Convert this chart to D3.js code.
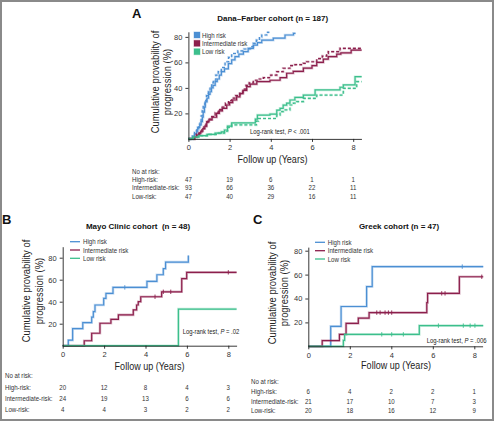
<!DOCTYPE html>
<html><head><meta charset="utf-8">
<script src="https://cdn.jsdelivr.net/npm/d3@7"></script>
<style>body{margin:0;background:#fff} svg{display:block}</style>
</head><body><svg id="c" width="494" height="421"></svg>
<script>
// ---------- data ----------
const xTicks = [0, 2, 4, 6, 8];
const yTicks = [20, 40, 60, 80];
const groups = ["High risk", "Intermediate risk", "Low risk"];
const tableRows = ["High-risk:", "Intermediate-risk:", "Low-risk:"];
const colors = ["#4b8fd3", "#8c1f4c", "#3cbf8c"];

const titleA = "Dana\u2013Farber cohort (n = 187)";
const titleB = "Mayo Clinic cohort  (n = 48)";
const titleC = "Greek cohort (n = 47)";

// Panel A (solid and dashed curves) [years, cumulative %]
const aHighSolid = [[0.2,2],[0.3,4],[0.4,6],[0.45,9],[0.55,11],[0.62,13.5],[0.68,17],[0.72,21],[0.78,25],[0.82,29],[0.9,32],[0.98,35],[1.05,37],[1.12,40],[1.2,42],[1.3,45],[1.4,47],[1.5,50],[1.6,52.7],[1.75,55],[1.94,59],[2.1,62],[2.26,64.5],[2.45,66.5],[2.67,68.4],[2.9,71],[3.15,73.6],[3.35,75.5],[3.56,77.5],[4.12,79],[4.69,81.5],[5.1,82.8]];
const aHighSolidEnd = 5.2;
const aHighDash = [[0.2,2],[0.3,5],[0.4,8],[0.5,11],[0.56,13.5],[0.62,18],[0.67,22],[0.72,26.6],[0.8,30],[0.88,34],[0.97,37],[1.05,41],[1.13,44],[1.21,46],[1.33,50],[1.45,52.7],[1.6,56],[1.78,60.5],[1.95,64],[2.1,67],[2.4,69],[2.7,70.5],[3.0,72.3],[3.15,75],[3.3,77.5],[3.45,80],[3.56,81.5],[3.8,83.6]];
const aHighDashEnd = 3.93;
const aMidSolid = [[0.3,1.5],[0.4,3],[0.5,4.5],[0.6,6],[0.7,8],[0.8,10],[0.89,13.5],[1.0,15],[1.15,17],[1.37,20],[1.5,22],[1.65,24],[1.86,26.6],[2.0,28.5],[2.15,30.5],[2.34,33],[2.5,35.5],[2.65,38],[2.83,41],[3.0,43],[3.32,45],[3.96,46],[4.45,48],[4.77,51.5],[5.09,53],[5.58,55.5],[6.0,57.5],[6.23,60],[6.55,62.5],[6.79,64.5],[7.2,66.5],[7.4,67.5],[7.9,69.7]];
const aMidSolidEnd = 8.41;
const aMidDash = [[0.3,1.5],[0.4,3.5],[0.55,5.5],[0.65,8],[0.75,10],[0.85,13],[0.95,15.5],[1.1,17.5],[1.3,20.5],[1.45,23],[1.6,25],[1.8,28],[1.95,30],[2.1,32],[2.3,34],[2.5,36.5],[2.65,39],[2.8,42],[2.95,44],[3.15,46],[3.4,47],[3.64,48],[4.0,50],[4.29,52.7],[4.6,55.4],[4.93,57.5],[5.17,58.2],[5.58,59.3],[5.74,60.5],[6.23,63],[6.5,65],[6.71,67],[6.79,68.4],[7.36,71]];
const aMidDashEnd = 8.41;
const aLowSolid = [[0.24,1.5],[0.5,2.5],[0.9,3.5],[1.3,4.5],[1.6,5.5],[1.75,7],[1.9,10],[2.1,12.5],[3.25,15.5],[3.35,18.7],[3.96,19.5],[4.29,22.5],[4.45,24],[4.6,26.5],[4.77,28],[4.93,30.5],[5.17,32.5],[5.58,34.4],[6.15,38.4],[7.36,40.5],[7.52,42.3],[8.09,48.8]];
const aLowSolidEnd = 8.41;
const aLowDash = [[0.24,1.5],[0.6,2.5],[1.0,3.5],[1.4,4.5],[1.75,6],[1.9,9],[2.1,11],[3.3,14],[3.4,16],[4.29,18.7],[4.45,21.4],[4.6,22.7],[4.93,26.6],[5.1,28],[5.26,29.2],[5.58,31.8],[6.23,34.4],[7.52,39.7],[8.17,44.9]];
const aLowDashEnd = 8.41;

// Panel B
const bHigh = [[0.27,5],[0.48,15.5],[0.97,21],[1.4,26],[1.48,31],[1.56,37],[1.98,43],[2.09,47.5],[2.43,53],[4.07,58.5],[4.55,64.5],[4.86,70],[4.97,76],[6.07,82]];
const bHighEnd = 6.07;
const bHighCens = [[3.0,53]];
const bMid = [[1.04,4.5],[1.4,11.3],[1.8,20.4],[2.33,24],[2.69,28],[3.41,32.5],[3.57,37],[3.65,40],[3.77,44.5],[4.78,49],[5.75,61],[5.99,66.7]];
const bMidEnd = 8.4;
const bMidCens = [[4.46,44.5],[4.86,49],[5.22,49],[8.0,66.7]];
const bLow = [[5.59,33.3]];
const bLowEnd = 8.4;
const bLowCens = [];

// Panel C
const cHigh = [[1.08,16.7],[1.58,33.3],[2.81,50],[3.08,66.7]];
const cHighEnd = 8.43;
const cHighCens = [[7.42,66.7]];
const cMid = [[0.67,4.8],[1.5,10],[1.82,19.2],[2.41,23.6],[2.93,28.2],[5.71,36.5],[5.75,44.3],[7.28,58.2]];
const cMidEnd = 8.43;
const cMidCens = [[3.3,28.2],[3.46,28.2],[3.7,28.2],[3.86,28.2],[4.02,28.2],[6.43,44.3],[6.59,44.3],[8.36,58.2]];
const cLow = [[1.69,5],[1.75,10],[5.35,17.3]];
const cLowEnd = 8.43;
const cLowCens = [[3.54,10],[4.02,10],[4.58,10],[6.27,17.3],[7.47,17.3],[7.8,17.3],[8.03,17.3]];

// numbers at risk
const atRiskA = [[47,19,6,1,1],[93,66,36,22,11],[47,40,29,16,11]];
const atRiskB = [[20,12,8,4,3],[24,19,13,6,6],[4,4,3,2,2]];
const atRiskC = [[6,4,2,2,1],[21,17,10,7,3],[20,18,16,12,9]];

// ---------- drawing ----------
const SANS = "'Liberation Sans',Arial,Helvetica,sans-serif";
const COND = 0.82; // condensed look (horizontal scale)
const svg = d3.select("#c");
svg.append("rect").attr("x",1).attr("y",1).attr("width",492).attr("height",419)
  .attr("fill","none").attr("stroke","#8a8a8a").attr("stroke-width",2);

function txt(g, x, y, s, size, opts = {}) {
  let parent = g, tx = x, ty = y;
  if (opts.narrow) {
    parent = g.append("g").attr("transform", `translate(${x},${y}) scale(${COND},1)`);
    tx = 0; ty = 0;
  }
  const t = parent.append("text").attr("x", tx).attr("y", ty)
    .attr("font-family", SANS).attr("font-size", size)
    .attr("fill", opts.fill || "#222")
    .attr("text-anchor", opts.anchor || "start")
    .attr("font-weight", opts.weight || "normal");
  if (opts.dy) t.attr("dy", opts.dy);
  if (opts.pre) t.style("white-space", "pre");
  t.text(s);
  return t;
}

function panel(cfg) {
  const g = svg.append("g");
  const x = d3.scaleLinear().domain([0, 8.4]).range([cfg.x0, cfg.x0 + cfg.px * 8.4]);
  const y = d3.scaleLinear().domain([0, cfg.ymax]).range([cfg.y0, cfg.y0 - cfg.py * cfg.ymax]);

  // letter + title
  txt(g, cfg.letter[1], cfg.letter[2], cfg.letter[0], 13, {weight: "bold", fill: "#111"});
  txt(g, cfg.title[1], cfg.title[2], cfg.title[0], 8, {weight: "bold", anchor: "middle", fill: "#111", pre: true});

  // curves
  const line = d3.line().x(d => x(d[0])).y(d => y(d[1])).curve(d3.curveStepAfter);
  cfg.series.forEach(s => {
    const pts = [[0, 0], ...s.data, [s.end, s.data[s.data.length - 1][1]]];
    g.append("path").attr("d", line(pts)).attr("fill", "none")
      .attr("stroke", s.color).attr("stroke-opacity", 0.3).attr("stroke-width", 2.6)
      .attr("stroke-dasharray", s.dash ? "3,2" : null);
    g.append("path").attr("d", line(pts)).attr("fill", "none")
      .attr("stroke", s.color).attr("stroke-width", 1.2)
      .attr("stroke-dasharray", s.dash ? "3,2" : null);
    (s.cens || []).forEach(c => {
      g.append("line").attr("x1", x(c[0])).attr("x2", x(c[0]))
        .attr("y1", y(c[1]) - 2.2).attr("y2", y(c[1]) + 2.2)
        .attr("stroke", s.color).attr("stroke-width", 0.9);
    });
  });

  // axes
  const xa = d3.axisBottom(x).tickValues(xTicks).tickSize(3).tickSizeOuter(0).tickPadding(3).tickFormat(d3.format("d"));
  const gx = g.append("g").attr("transform", `translate(0,${cfg.y0})`).call(xa);
  const ya = d3.axisLeft(y).tickValues(yTicks).tickSize(3).tickSizeOuter(0).tickPadding(3);
  const gy = g.append("g").attr("transform", `translate(${cfg.x0},0)`).call(ya);
  [gx, gy].forEach(a => {
    a.selectAll("path,line").attr("stroke", "#222").attr("stroke-width", 0.9);
    a.selectAll("text").attr("font-family", SANS).attr("font-size", 7.5).attr("fill", "#333");
  });

  // axis titles
  const yl1 = g.append("g").attr("transform", `translate(${cfg.ylab[0]},${cfg.ylab[2]}) rotate(-90)`);
  txt(yl1, 0, 0, "Cumulative provability of", 11.5, {anchor: "middle", dy: "0.35em", narrow: true});
  const yl2 = g.append("g").attr("transform", `translate(${cfg.ylab[1]},${cfg.ylab[2]}) rotate(-90)`);
  txt(yl2, 0, 0, "progression (%)", 11.5, {anchor: "middle", dy: "0.35em", narrow: true});
  txt(g, cfg.xlab[0], cfg.xlab[1], "Follow up (Years)", 11, {anchor: "middle", narrow: true});

  // legend
  groups.forEach((name, i) => {
    const ly = cfg.leg.y[i];
    if (cfg.leg.square) {
      g.append("rect").attr("x", cfg.leg.x).attr("y", ly - 3).attr("width", 6).attr("height", 6)
        .attr("fill", colors[i]).attr("stroke", colors[i]).attr("stroke-opacity", 0.4).attr("stroke-width", 1);
    } else {
      g.append("line").attr("x1", cfg.leg.x).attr("x2", cfg.leg.x + 10).attr("y1", ly).attr("y2", ly)
        .attr("stroke", colors[i]).attr("stroke-width", 1.3);
    }
    txt(g, cfg.leg.tx, ly + 2.6, name, 7.5, {fill: "#333", narrow: true});
  });

  // log-rank
  const lr = txt(g, cfg.lr.x, cfg.lr.y, "", 7.2, {fill: "#222", narrow: true});
  lr.append("tspan").text("Log-rank test, ");
  lr.append("tspan").attr("font-style", "italic").text("P");
  lr.append("tspan").text(cfg.lr.p);

  // at-risk table
  txt(g, cfg.tab.x, cfg.tab.y[0], "No at risk:", 7.5, {fill: "#333", narrow: true});
  tableRows.forEach((r, i) => {
    txt(g, cfg.tab.x, cfg.tab.y[i + 1], r, 7.5, {fill: "#333", narrow: true});
    cfg.tab.vals[i].forEach((v, j) => {
      txt(g, x(xTicks[j]), cfg.tab.y[i + 1], v, 7.5, {anchor: "middle", fill: "#333", narrow: true});
    });
  });
}

panel({
  x0: 188.4, px: 20.6, y0: 138.9, py: 1.275, ymax: 84,
  letter: ["A", 132, 18], title: [titleA, 272.7, 21],
  series: [
    {data: aHighSolid, end: aHighSolidEnd, color: colors[0]},
    {data: aHighDash, end: aHighDashEnd, color: colors[0], dash: true},
    {data: aMidSolid, end: aMidSolidEnd, color: colors[1]},
    {data: aMidDash, end: aMidDashEnd, color: colors[1], dash: true},
    {data: aLowSolid, end: aLowSolidEnd, color: colors[2]},
    {data: aLowDash, end: aLowDashEnd, color: colors[2], dash: true}
  ],
  ylab: [155, 167, 82], xlab: [272.5, 163],
  leg: {square: true, x: 194, tx: 202, y: [35, 43.3, 51.7]},
  lr: {x: 250, y: 133.5, p: " < .001"},
  tab: {x: 132, y: [173.7, 182, 190.4, 198.7], vals: atRiskA}
});

panel({
  x0: 62.7, px: 20.7, y0: 345.7, py: 1.1, ymax: 90,
  letter: ["B", 2, 224], title: [titleB, 138, 229],
  series: [
    {data: bHigh, end: bHighEnd, color: colors[0], cens: bHighCens},
    {data: bMid, end: bMidEnd, color: colors[1], cens: bMidCens},
    {data: bLow, end: bLowEnd, color: colors[2], cens: bLowCens}
  ],
  ylab: [26, 38.5, 291], xlab: [149.5, 370],
  leg: {square: false, x: 70, tx: 83, y: [241.7, 250, 258.3]},
  lr: {x: 182.7, y: 333.5, p: " = .02"},
  tab: {x: 5, y: [377.7, 390.3, 401, 412], vals: atRiskB}
});

panel({
  x0: 308.3, px: 20.75, y0: 346.3, py: 1.195, ymax: 83,
  letter: ["C", 253, 224], title: [titleC, 399, 229],
  series: [
    {data: cHigh, end: cHighEnd, color: colors[0], cens: cHighCens},
    {data: cMid, end: cMidEnd, color: colors[1], cens: cMidCens},
    {data: cLow, end: cLowEnd, color: colors[2], cens: cLowCens}
  ],
  ylab: [271.7, 283.5, 293], xlab: [396, 369],
  leg: {square: false, x: 315, tx: 327.7, y: [242.3, 250.7, 259]},
  lr: {x: 426.7, y: 342.5, p: " = .006"},
  tab: {x: 251, y: [384.4, 394.4, 404.4, 413.4], vals: atRiskC}
});
</script></body></html>
